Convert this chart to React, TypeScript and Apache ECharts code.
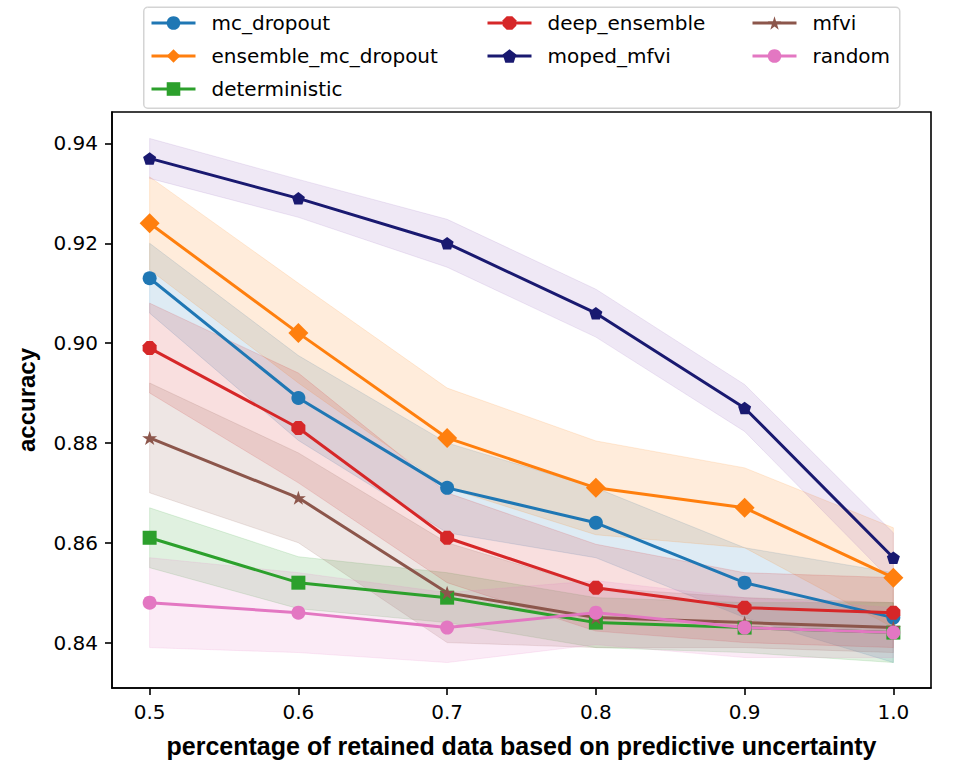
import { useEffect, useRef } from "react";
import * as echarts from "echarts";

// Fraction of data retained after dropping the most uncertain predictions
const retained = [0.5, 0.6, 0.7, 0.8, 0.9, 1.0];
const xTickValues = [0.5, 0.6, 0.7, 0.8, 0.9, 1.0];
const yTickValues = [0.84, 0.86, 0.88, 0.9, 0.92, 0.94];

// Mean accuracy and spread (half-width of the shaded band) per method
const mcDropoutMean = [0.913, 0.889, 0.871, 0.864, 0.852, 0.845];
const mcDropoutStd = [0.007, 0.0085, 0.009, 0.007, 0.007, 0.009];

const ensembleMcDropoutMean = [0.924, 0.902, 0.881, 0.871, 0.867, 0.853];
const ensembleMcDropoutStd = [0.0093, 0.01, 0.01, 0.0094, 0.008, 0.01];

const deterministicMean = [0.861, 0.852, 0.849, 0.844, 0.843, 0.842];
const deterministicStd = [0.006, 0.0052, 0.005, 0.005, 0.005, 0.006];

const deepEnsembleMean = [0.899, 0.883, 0.861, 0.851, 0.847, 0.846];
const deepEnsembleStd = [0.009, 0.011, 0.009, 0.0087, 0.007, 0.007];

const mopedMfviMean = [0.937, 0.929, 0.92, 0.906, 0.887, 0.857];
const mopedMfviStd = [0.004, 0.0038, 0.0048, 0.0048, 0.0047, 0.005];

const mfviMean = [0.881, 0.869, 0.85, 0.845, 0.844, 0.843];
const mfviStd = [0.011, 0.009, 0.01, 0.006, 0.005, 0.005];

const randomMean = [0.848, 0.846, 0.843, 0.846, 0.843, 0.842];
const randomStd = [0.009, 0.008, 0.007, 0.0064, 0.006, 0.005];

const OCTAGON =
  "path://M-0.383,-0.924L0.383,-0.924L0.924,-0.383L0.924,0.383L0.383,0.924L-0.383,0.924L-0.924,0.383L-0.924,-0.383Z";
const PENTAGON =
  "path://M0,-1L0.951,-0.309L0.588,0.809L-0.588,0.809L-0.951,-0.309Z";
const STAR =
  "path://M0,-1L0.225,-0.309L0.951,-0.309L0.363,0.118L0.588,0.809L0,0.382L-0.588,0.809L-0.363,0.118L-0.951,-0.309L-0.225,-0.309Z";

type Method = {
  name: string;
  mean: number[];
  std: number[];
  color: string;
  band: string;
  symbol: string;
  size: number | number[];
};

const methods: Method[] = [
  { name: "mc_dropout", mean: mcDropoutMean, std: mcDropoutStd, color: "#1f77b4", band: "rgba(31,119,180,0.15)", symbol: "circle", size: 14 },
  { name: "ensemble_mc_dropout", mean: ensembleMcDropoutMean, std: ensembleMcDropoutStd, color: "#ff7f0e", band: "rgba(255,127,14,0.15)", symbol: "diamond", size: 20 },
  { name: "deterministic", mean: deterministicMean, std: deterministicStd, color: "#2ca02c", band: "rgba(44,160,44,0.15)", symbol: "rect", size: 14 },
  { name: "deep_ensemble", mean: deepEnsembleMean, std: deepEnsembleStd, color: "#d62728", band: "rgba(214,39,40,0.15)", symbol: OCTAGON, size: 14 },
  { name: "moped_mfvi", mean: mopedMfviMean, std: mopedMfviStd, color: "#191970", band: "rgba(148,103,189,0.15)", symbol: PENTAGON, size: [13, 12.5] },
  { name: "mfvi", mean: mfviMean, std: mfviStd, color: "#8c564b", band: "rgba(140,86,75,0.15)", symbol: STAR, size: [15, 14] },
  { name: "random", mean: randomMean, std: randomStd, color: "#e377c2", band: "rgba(227,119,194,0.15)", symbol: "circle", size: 14 },
];

const legendColumns = [
  ["mc_dropout", "ensemble_mc_dropout", "deterministic"],
  ["deep_ensemble", "moped_mfvi"],
  ["mfvi", "random"],
];
const legendLeft = [150, 486, 751];

export default function App() {
  const ref = useRef<HTMLDivElement>(null);

  useEffect(() => {
    if (!ref.current) return;
    const chart = echarts.init(ref.current, undefined, { renderer: "svg" });

    const bandSeries = methods.map((m) => {
      const rows = retained.map((x, i) => [x, m.mean[i] - m.std[i], m.mean[i] + m.std[i]]);
      return {
        type: "custom",
        name: m.name + " spread",
        data: rows,
        encode: { x: 0, y: [1, 2] },
        silent: true,
        clip: true,
        z: 1,
        renderItem: (params: any, api: any) => {
          if (params.dataIndex !== 0) return null;
          const upper = rows.map((r) => api.coord([r[0], r[2]]));
          const lower = rows.map((r) => api.coord([r[0], r[1]])).reverse();
          return {
            type: "polygon",
            shape: { points: upper.concat(lower) },
            style: { fill: m.band, stroke: m.band, lineWidth: 1 },
          };
        },
      };
    });

    const lineSeries = methods.map((m) => ({
      type: "line",
      name: m.name,
      data: retained.map((x, i) => [x, m.mean[i]]),
      symbol: m.symbol,
      symbolSize: m.size,
      showAllSymbol: true,
      z: 3,
      lineStyle: { color: m.color, width: 3 },
      itemStyle: { color: m.color, borderWidth: 0 },
      emphasis: { disabled: true },
    }));

    const tickFont = { fontFamily: "DejaVu Sans", fontSize: 20, color: "#000" };

    chart.setOption({
      animation: false,
      backgroundColor: "#fff",
      grid: {
        left: 112,
        top: 112,
        right: 28,
        bottom: 84,
        show: true,
        borderColor: "#000",
        borderWidth: 1.6,
        backgroundColor: "transparent",
      },
      xAxis: {
        type: "value",
        min: 0.4747,
        max: 1.0253,
        splitLine: { show: false },
        axisLine: { show: true, onZero: false, lineStyle: { color: "#000", width: 1.6 } },
        axisTick: { show: true, length: 7, lineStyle: { color: "#000", width: 1.6 }, customValues: xTickValues },
        axisLabel: { ...tickFont, margin: 14, customValues: xTickValues, formatter: (v: number) => v.toFixed(1) },
        name: "percentage of retained data based on predictive uncertainty",
        nameLocation: "middle",
        nameGap: 45,
        nameTextStyle: { fontFamily: "Liberation Sans", fontWeight: "bold", fontSize: 25, color: "#000" },
      },
      yAxis: {
        type: "value",
        min: 0.8309,
        max: 0.9463,
        splitLine: { show: false },
        axisLine: { show: true, onZero: false, lineStyle: { color: "#000", width: 1.6 } },
        axisTick: { show: true, length: 7, lineStyle: { color: "#000", width: 1.6 }, customValues: yTickValues },
        axisLabel: { ...tickFont, margin: 14, customValues: yTickValues, formatter: (v: number) => v.toFixed(2) },
        name: "accuracy",
        nameLocation: "middle",
        nameGap: 74,
        nameTextStyle: { fontFamily: "Liberation Sans", fontWeight: "bold", fontSize: 24, color: "#000" },
      },
      legend: legendColumns.map((col, k) => ({
        data: col,
        orient: "vertical",
        left: legendLeft[k],
        top: 13,
        padding: 0,
        itemWidth: 44,
        itemHeight: 17,
        itemGap: 13,
        selectedMode: false,
        lineStyle: { width: 3 },
        textStyle: {
          fontFamily: "DejaVu Sans",
          fontSize: 20,
          color: "#000",
          lineHeight: 20,
          padding: [0, 0, 0, 11],
        },
      })),
      graphic: [
        {
          type: "rect",
          left: 143,
          top: 6.5,
          shape: { width: 756, height: 101, r: 4 },
          style: { fill: "#fff", stroke: "#d4d4d4", lineWidth: 1.5 },
          z: 0,
          silent: true,
        },
      ],
      series: [...bandSeries, ...lineSeries],
    });

    return () => chart.dispose();
  }, []);

  return (
    <div
      ref={ref}
      style={{ position: "absolute", left: 0, top: 0, width: 959, height: 772 }}
    />
  );
}
